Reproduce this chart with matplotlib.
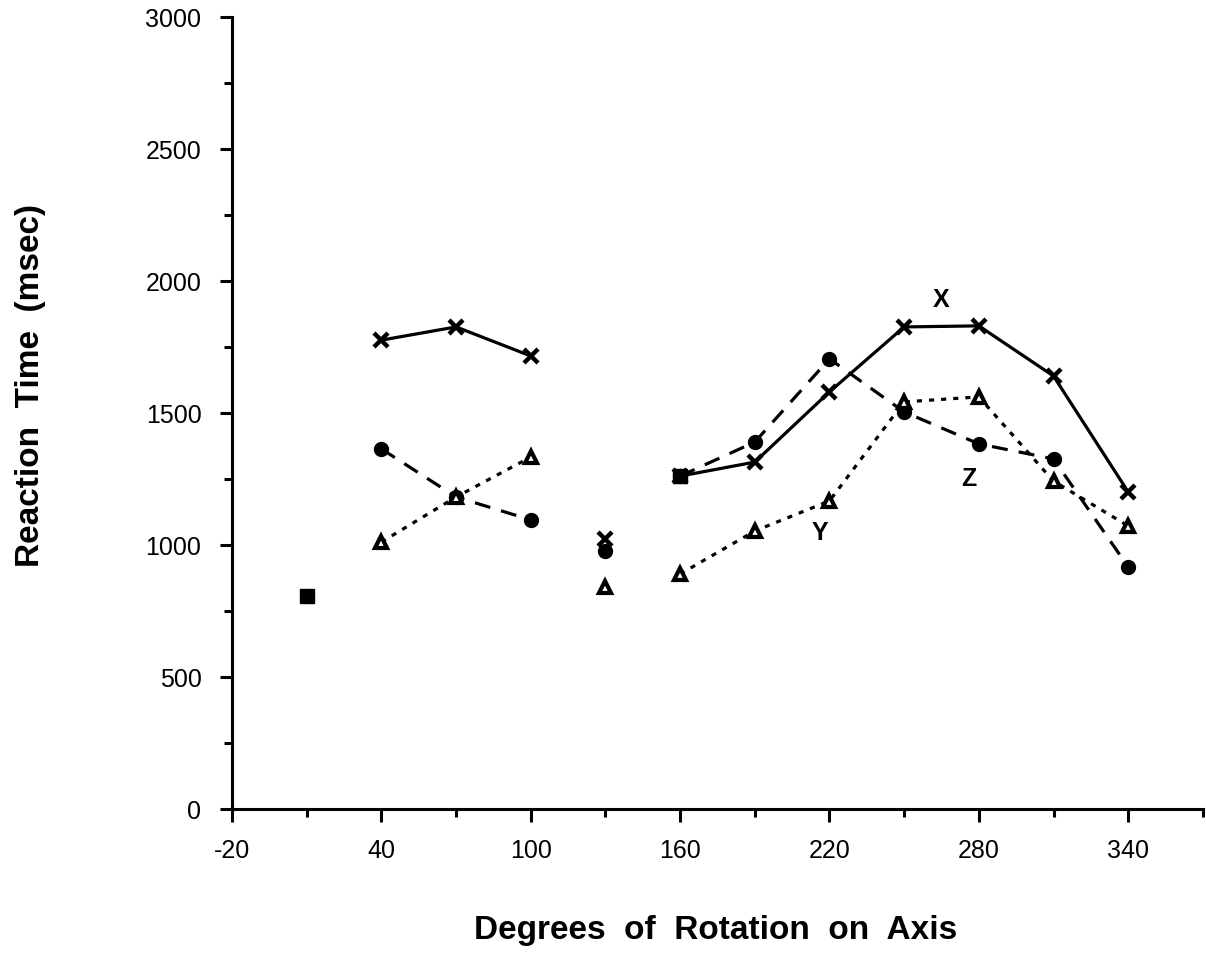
import numpy as np
import matplotlib
matplotlib.use("Agg")
from matplotlib import pyplot as plt

# reaction times (msec), per rotation angle
angles = [10, 40, 70, 100, 130, 160, 190, 220, 250, 280, 310, 340]
rt_x = [807, 1776, 1826, 1716, 1023, 1261, 1314, 1580, 1826, 1830, 1640, 1201]
rt_y = [807, 1011, 1182, 1333, 841, 890, 1053, 1167, 1542, 1561, 1242, 1072]
rt_z = [807, 1364, 1182, 1095, 977, 1261, 1390, 1705, 1504, 1383, 1326, 917]

# index runs that are joined by lines; other points stand alone
runs = [(1, 4), (5, 12)]
# angles where several axes share one value (drawn as a square)
shared_angles = [10, 160]
shared_rt = [807, 1261]

plt.rcParams["font.family"] = ["Liberation Sans", "DejaVu Sans"]
plt.rcParams["axes.unicode_minus"] = False

fig = plt.figure(figsize=(12.06, 9.78), dpi=100)
ax = fig.add_axes([0.1924, 0.1718, 0.805, 0.8098])

a = np.array(angles)
series = [
    (np.array(rt_z), dict(ls=(0, (5, 3.5)), marker="o", ms=10, mfc="k", mec="k")),
    (np.array(rt_y), dict(ls=(0, (1.6, 2.2)), marker="^", ms=8, mfc="white", mec="k", mew=3)),
    (np.array(rt_x), dict(ls="-", marker="x", ms=10, mec="k", mew=3.2)),
]
for vals, style in series:
    for i0, i1 in runs:
        ax.plot(a[i0:i1], vals[i0:i1], color="k", lw=2.3, **style)
    # lone point at 130
    st = {k: v for k, v in style.items() if k != "ls"}
    ax.plot(a[4], vals[4], color="k", ls="none", **st)

ax.plot(shared_angles, shared_rt, ls="none", marker="s", ms=10, color="k", zorder=5)

ax.text(265, 1930, "X", fontsize=18, fontweight="bold", ha="center", va="center")
ax.text(216, 1050, "Y", fontsize=18, fontweight="bold", ha="center", va="center")
ax.text(276, 1255, "Z", fontsize=18, fontweight="bold", ha="center", va="center")

ax.set_xlim(-20, 370)
ax.set_ylim(0, 3000)
ax.set_xticks(np.arange(-20, 341, 60))
ax.set_xticks(np.arange(10, 371, 30), minor=True)
ax.set_yticks(np.arange(0, 3001, 500))
ax.set_yticks(np.arange(250, 3000, 500), minor=True)

for s in ["top", "right"]:
    ax.spines[s].set_visible(False)
for s in ["left", "bottom"]:
    ax.spines[s].set_linewidth(2.2)

ax.tick_params(axis="both", which="major", direction="out", length=9, width=2.2,
               labelsize=18)
ax.tick_params(axis="y", which="major", pad=13)
ax.tick_params(axis="x", which="major", pad=12)
ax.tick_params(axis="both", which="minor", direction="out", length=6, width=2.2)

fig.text(0.593, 0.049, "Degrees  of  Rotation  on  Axis", fontsize=24,
         fontweight="bold", ha="center", va="center")
fig.text(0.025, 0.606, "Reaction  Time  (msec)", fontsize=24, fontweight="bold",
         ha="center", va="center", rotation=90)

fig.savefig("out.png", dpi=100)
